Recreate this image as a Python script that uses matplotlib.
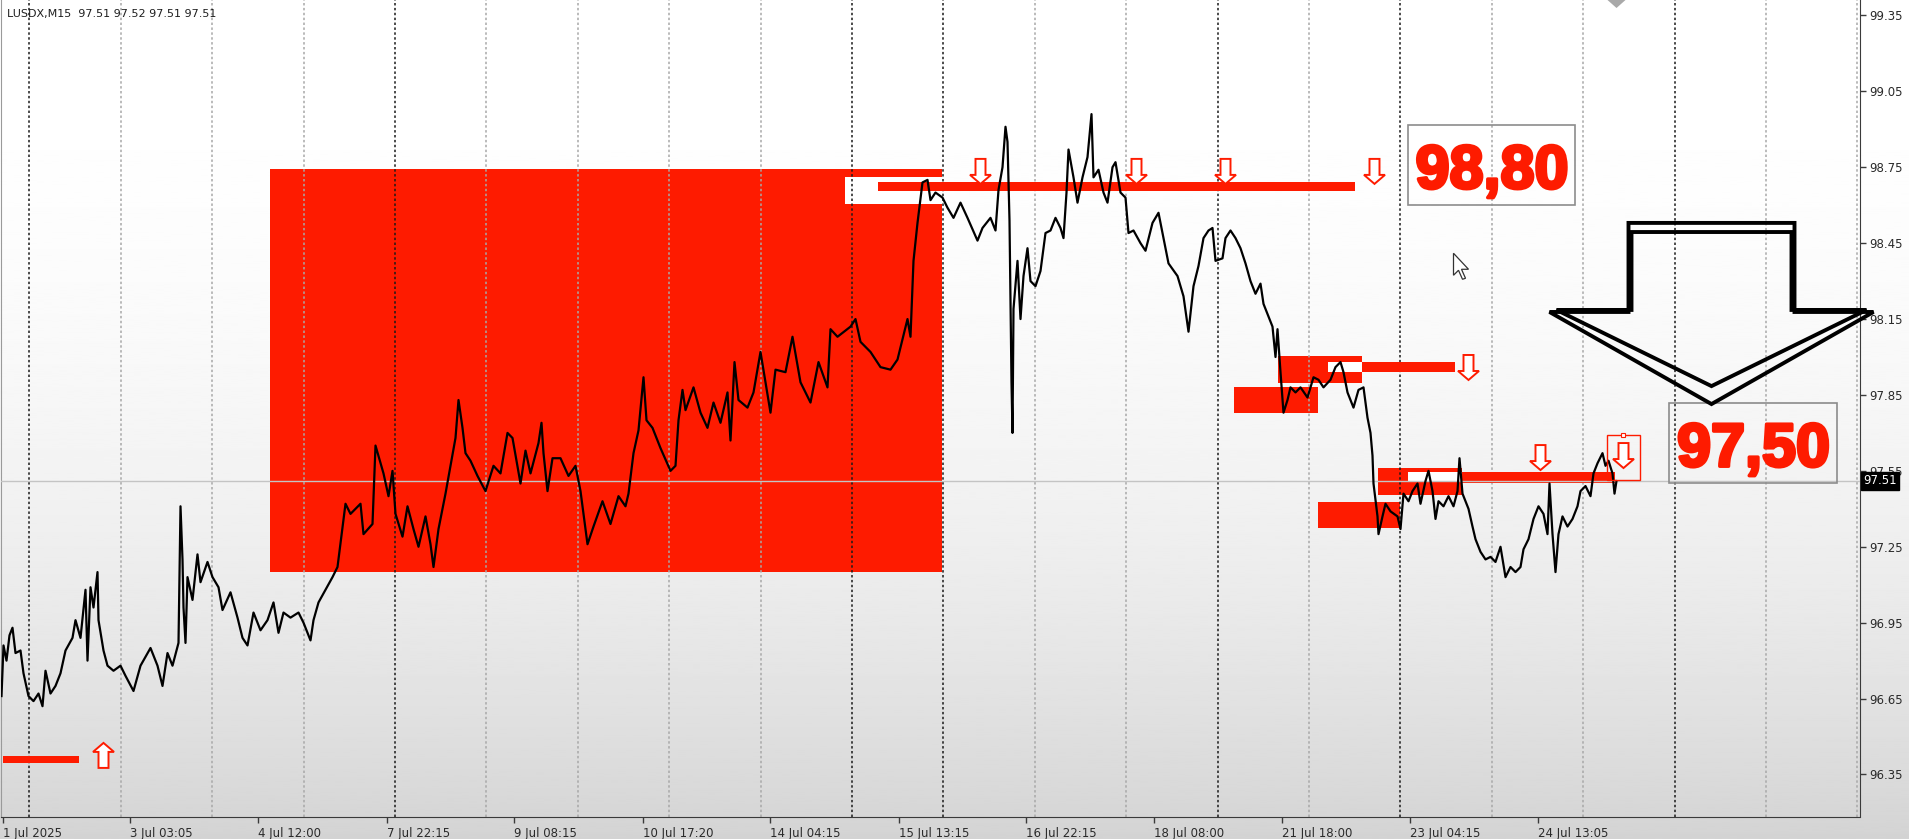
import matplotlib
matplotlib.use('Agg')
import matplotlib.pyplot as plt
import matplotlib.patheffects as pe
import matplotlib.transforms as mtransforms
from matplotlib.patches import Rectangle, Polygon
import numpy as np

W, H, DPI = 1909, 839, 100
RED = '#FE1B00'

HEADER = 'LUSDX,M15  97.51 97.52 97.51 97.51'
LAST_PRICE = 97.51

# M15 close trace, x = bar index on the chart
BAR = [1, 3, 6, 9, 12, 15, 20, 23, 28, 33, 38, 42, 45, 50, 55, 60, 65, 72, 75, 80,
       85, 87, 90, 93, 97, 98, 103, 107, 113, 120, 125, 133, 140, 150, 157, 162, 167, 172, 178, 180,
       182, 183, 185, 187, 192, 197, 200, 207, 212, 218, 222, 230, 237, 242, 247, 253, 260, 267, 273, 278,
       283, 290, 298, 303, 310, 313, 318, 325, 332, 337, 345, 350, 360, 363, 372, 375, 383, 388, 392, 395,
       402, 407, 413, 418, 425, 430, 433, 438, 445, 450, 455, 458, 462, 465, 470, 477, 485, 493, 500, 507,
       512, 520, 525, 530, 538, 541, 543, 547, 552, 560, 568, 575, 580, 587, 593, 602, 610, 618, 625, 628,
       633, 638, 643, 646, 652, 660, 670, 675, 678, 682, 685, 693, 700, 707, 713, 720, 727, 730, 734, 738,
       747, 753, 760, 765, 770, 775, 785, 792, 800, 810, 818, 827, 830, 837, 850, 855, 860, 870, 880, 890,
       897, 907, 910, 913, 917, 922, 927, 930, 935, 942, 947, 953, 960, 967, 977, 982, 990, 995, 998, 1002,
       1005, 1007, 1009, 1011, 1012, 1013, 1017, 1020, 1023, 1027, 1030, 1035, 1040, 1045, 1050, 1055, 1060, 1063, 1066, 1068,
       1073, 1077, 1082, 1087, 1091, 1093, 1098, 1103, 1107, 1112, 1115, 1120, 1125, 1128, 1133, 1140, 1145, 1152, 1158, 1163,
       1168, 1177, 1183, 1188, 1193, 1198, 1203, 1208, 1212, 1215, 1222, 1225, 1230, 1235, 1240, 1245, 1250, 1255, 1260, 1263,
       1267, 1272, 1275, 1277, 1280, 1283, 1287, 1290, 1295, 1300, 1307, 1313, 1318, 1323, 1330, 1335, 1340, 1343, 1347, 1353,
       1358, 1363, 1367, 1370, 1372, 1373, 1377, 1378, 1382, 1385, 1390, 1397, 1400, 1403, 1408, 1412, 1417, 1420, 1425, 1428,
       1432, 1435, 1438, 1443, 1448, 1453, 1457, 1459, 1462, 1465, 1468, 1472, 1475, 1480, 1485, 1490, 1495, 1500, 1505, 1510,
       1515, 1520, 1523, 1528, 1533, 1538, 1543, 1547, 1549, 1552, 1555, 1558, 1562, 1567, 1572, 1577, 1580, 1585, 1590, 1593,
       1597, 1602, 1605, 1608, 1612, 1614, 1616]
CLOSE = [96.66, 96.86, 96.80, 96.90, 96.93, 96.83, 96.84, 96.75, 96.66, 96.64, 96.67, 96.62, 96.76, 96.67, 96.70, 96.75, 96.84, 96.89, 96.96, 96.89,
         97.08, 96.80, 97.09, 97.01, 97.15, 96.96, 96.84, 96.78, 96.76, 96.78, 96.74, 96.68, 96.78, 96.85, 96.78, 96.70, 96.83, 96.78, 96.87, 97.41,
         97.20, 97.01, 96.87, 97.13, 97.04, 97.22, 97.11, 97.19, 97.13, 97.09, 97.00, 97.07, 96.97, 96.89, 96.86, 96.99, 96.92, 96.96, 97.03, 96.91,
         96.99, 96.97, 96.99, 96.95, 96.88, 96.96, 97.03, 97.08, 97.13, 97.17, 97.42, 97.38, 97.42, 97.30, 97.34, 97.65, 97.54, 97.45, 97.55, 97.38,
         97.29, 97.41, 97.32, 97.25, 97.37, 97.26, 97.17, 97.32, 97.46, 97.57, 97.68, 97.83, 97.72, 97.62, 97.59, 97.53, 97.47, 97.57, 97.54, 97.70,
         97.68, 97.50, 97.63, 97.54, 97.66, 97.74, 97.62, 97.47, 97.60, 97.60, 97.53, 97.57, 97.47, 97.26, 97.33, 97.43, 97.34, 97.45, 97.41, 97.46,
         97.62, 97.71, 97.92, 97.75, 97.72, 97.64, 97.55, 97.57, 97.75, 97.87, 97.79, 97.88, 97.78, 97.72, 97.82, 97.74, 97.86, 97.67, 97.98, 97.83,
         97.80, 97.86, 98.02, 97.90, 97.78, 97.95, 97.94, 98.08, 97.90, 97.82, 97.98, 97.88, 98.11, 98.08, 98.12, 98.15, 98.06, 98.02, 97.96, 97.95,
         97.99, 98.15, 98.08, 98.38, 98.53, 98.69, 98.70, 98.62, 98.65, 98.63, 98.59, 98.55, 98.61, 98.55, 98.46, 98.51, 98.55, 98.50, 98.66, 98.75,
         98.91, 98.85, 98.54, 97.90, 97.70, 98.19, 98.38, 98.15, 98.32, 98.43, 98.30, 98.28, 98.34, 98.49, 98.50, 98.55, 98.51, 98.47, 98.65, 98.82,
         98.71, 98.61, 98.71, 98.79, 98.96, 98.71, 98.74, 98.65, 98.61, 98.75, 98.77, 98.65, 98.63, 98.49, 98.50, 98.45, 98.42, 98.53, 98.57, 98.47,
         98.37, 98.32, 98.24, 98.10, 98.28, 98.36, 98.47, 98.50, 98.51, 98.38, 98.39, 98.47, 98.50, 98.47, 98.43, 98.37, 98.30, 98.25, 98.29, 98.21,
         98.17, 98.12, 98.00, 98.11, 97.94, 97.78, 97.83, 97.88, 97.86, 97.88, 97.84, 97.92, 97.91, 97.88, 97.91, 97.96, 97.98, 97.94, 97.86, 97.80,
         97.87, 97.88, 97.76, 97.70, 97.61, 97.50, 97.37, 97.30, 97.37, 97.42, 97.39, 97.37, 97.32, 97.46, 97.43, 97.47, 97.50, 97.42, 97.51, 97.55,
         97.47, 97.36, 97.43, 97.41, 97.45, 97.41, 97.47, 97.60, 97.46, 97.43, 97.40, 97.33, 97.28, 97.23, 97.20, 97.21, 97.19, 97.25, 97.13, 97.17,
         97.15, 97.17, 97.24, 97.28, 97.36, 97.41, 97.38, 97.30, 97.50, 97.30, 97.15, 97.30, 97.37, 97.33, 97.36, 97.41, 97.47, 97.49, 97.45, 97.54,
         97.58, 97.62, 97.57, 97.59, 97.54, 97.46, 97.51]

DATE_BARS = [3, 130, 258, 387, 514, 643, 770, 899, 1026, 1154, 1282, 1410, 1538]
DATE_LABELS = ['1 Jul 2025', '3 Jul 03:05', '4 Jul 12:00', '7 Jul 22:15', '9 Jul 08:15',
               '10 Jul 17:20', '14 Jul 04:15', '15 Jul 13:15', '16 Jul 22:15', '18 Jul 08:00',
               '21 Jul 18:00', '23 Jul 04:15', '24 Jul 13:05']
PRICE_TICKS = [96.35, 96.65, 96.95, 97.25, 97.55, 97.85, 98.15, 98.45, 98.75, 99.05, 99.35]

# chart objects: (bar_from, bar_to, price_low, price_high)
RED_ZONES = [(270, 942, 97.150, 98.743), (1278, 1362, 97.897, 98.004), (1234, 1318, 97.779, 97.882),
             (1318, 1400, 97.324, 97.427), (1378, 1462, 97.455, 97.561)]
WHITE_ZONES = [(845, 942, 98.605, 98.712), (1328, 1362, 97.941, 97.980), (1408, 1462, 97.506, 97.546)]
LEVELS = [(878, 1355, 98.656, 98.692), (1362, 1455, 97.941, 97.980), (1462, 1615, 97.502, 97.546),
          (2, 79, 96.395, 96.423)]
DOWN_ARROWS = [(980, 98.783), (1136, 98.783), (1225, 98.783), (1374, 98.783),
               (1468, 98.008), (1540, 97.652), (1623, 97.660)]
UP_ARROWS = [(103, 96.376)]
TARGETS = [('98,80', 1408, 1575, 98.601, 98.917), ('97,50', 1669, 1837, 97.502, 97.818)]

plt.rcParams['font.family'] = ['DejaVu Sans']

fig = plt.figure(figsize=(W / DPI, H / DPI), dpi=DPI)

# soft grey fade of the screen capture
bg = fig.add_axes([0, 0, 1, 1], zorder=-10)
t = np.linspace(0, 1, 400)[:, None]
bg.imshow(1 - 0.17 * t ** 2.2, aspect='auto', cmap='gray', vmin=0, vmax=1,
          extent=[0, 1, 0, 1])
bg.axis('off')

ax = fig.add_axes([0.5 / W, 1 - 817 / H, 1859 / W, 817 / H])
ax.set_facecolor('none')
ax.set_xlim(0, 1859)
ax.set_ylim(96.182, 99.411)

XPP = (ax.get_xlim()[1] - ax.get_xlim()[0]) / 1859
YPP = (ax.get_ylim()[1] - ax.get_ylim()[0]) / 817


def px_poly(x0, p0, pts):
    return [(x0 + dx * XPP, p0 - dy * YPP) for dx, dy in pts]


for x0, x1, lo, hi in RED_ZONES:
    ax.add_patch(Rectangle((x0, lo), x1 - x0, hi - lo, color=RED, lw=0, zorder=1))
for x0, x1, lo, hi in WHITE_ZONES:
    ax.add_patch(Rectangle((x0, lo), x1 - x0, hi - lo, color='white', lw=0, zorder=1.2))

# vertical dotted grid
dark = [0, 4, 9, 10, 13, 15, 18]
for k, gx in enumerate(np.arange(29, 1859, 91.4)):
    ax.axvline(gx, color='#1a1a1a' if k in dark else '#a8a8a8', lw=1.1,
               ls=(0, (1.6, 1.6)), zorder=2)

for x0, x1, lo, hi in LEVELS:
    ax.add_patch(Rectangle((x0, lo), x1 - x0, hi - lo, color=RED, lw=0, zorder=2.5))

ax.axhline(LAST_PRICE, color='#c4c4c4', lw=1, zorder=2.6)
ax.plot(BAR, CLOSE, color='black', lw=1.6, zorder=4)

down = [(-5, 0), (5, 0), (5, 16), (10.5, 16), (0, 25), (-10.5, 16), (-5, 16)]
for bx, top in DOWN_ARROWS:
    ax.add_patch(Polygon(px_poly(bx, top, down), closed=True, fc='white', ec=RED, lw=1.4, zorder=5))
for bx, base in UP_ARROWS:
    ax.add_patch(Polygon(px_poly(bx, base, [(x, -y) for x, y in down]), closed=True,
                         fc='white', ec=RED, lw=1.4, zorder=5))

# selection frame round the last arrow
ax.add_patch(Rectangle((1607, 97.514), 33, 0.178, fill=False, ec=RED, lw=1, zorder=5))
ax.add_patch(Polygon(px_poly(1623, 97.692, [(-2, -2), (2, -2), (2, 2), (-2, 2)]),
                     closed=True, fc='white', ec=RED, lw=0.8, zorder=5))

# target labels
for txt, x0, x1, lo, hi in TARGETS:
    ax.add_patch(Rectangle((x0, lo), x1 - x0, hi - lo, fill=False, ec='#8c8c8c', lw=1.2, zorder=5))
    base = hi - (hi - lo) * 0.79
    ax.text((x0 + x1) / 2, base, txt, ha='center', va='baseline', color=RED,
            fontsize=44, fontweight='bold', family='Liberation Sans', zorder=6,
            path_effects=[pe.withStroke(linewidth=2.5, foreground=RED)])

# big hollow down arrow (drawn twice, slightly offset)
cx = 1711
for top, wing, tip, sh, wh in [(98.530, 98.178, 97.814, 83, 162), (98.494, 98.186, 97.885, 80, 155)]:
    pts = [(cx - sh, top), (cx + sh, top), (cx + sh, wing), (cx + wh, wing), (cx, tip),
           (cx - wh, wing), (cx - sh, wing)]
    ax.add_patch(Polygon(pts, closed=True, fill=False, ec='black', lw=2.8,
                         joinstyle='miter', zorder=7, clip_on=False))

# mouse pointer
cur = [(0, 0), (0, 22), (5, 17), (9, 26), (12, 25), (8, 16), (15, 16)]
ax.add_patch(Polygon(px_poly(1453, 98.41, cur), closed=True, fc='white', ec='#333333', lw=0.9, zorder=7))
# chart shift marker at the top
ax.add_patch(Polygon(px_poly(1616, 99.411, [(-9, 0), (9, 0), (0, 8)]), closed=True,
                     fc='#a9a9a9', lw=0, zorder=7, clip_on=False))

# axes styling
ax.spines['top'].set_visible(False)
ax.spines['left'].set_color('#9a9a9a')
ax.spines['right'].set_color('#3a3a3a')
ax.spines['bottom'].set_color('#3a3a3a')
ax.yaxis.tick_right()
ax.set_yticks(PRICE_TICKS, [f'{v:.2f}' for v in PRICE_TICKS])
ax.set_xticks(DATE_BARS, DATE_LABELS)
for lab in ax.get_xticklabels():
    lab.set_ha('left')
ax.tick_params(axis='both', length=4, width=1, color='#3a3a3a', labelsize=8.5,
               labelcolor='#2a2a2a', pad=3)

trans = mtransforms.blended_transform_factory(ax.transAxes, ax.transData)
ax.text(1 + 4 / 1859, LAST_PRICE, '97.51', transform=trans, ha='left', va='center',
        fontsize=8.5, color='white', zorder=10, clip_on=False,
        bbox=dict(boxstyle='square,pad=0.2', fc='black', ec='black'))

fig.text(7 / W, 1 - 17 / H, HEADER, fontsize=8, color='#1e1e1e', va='baseline')

fig.savefig('out.png', dpi=DPI)
